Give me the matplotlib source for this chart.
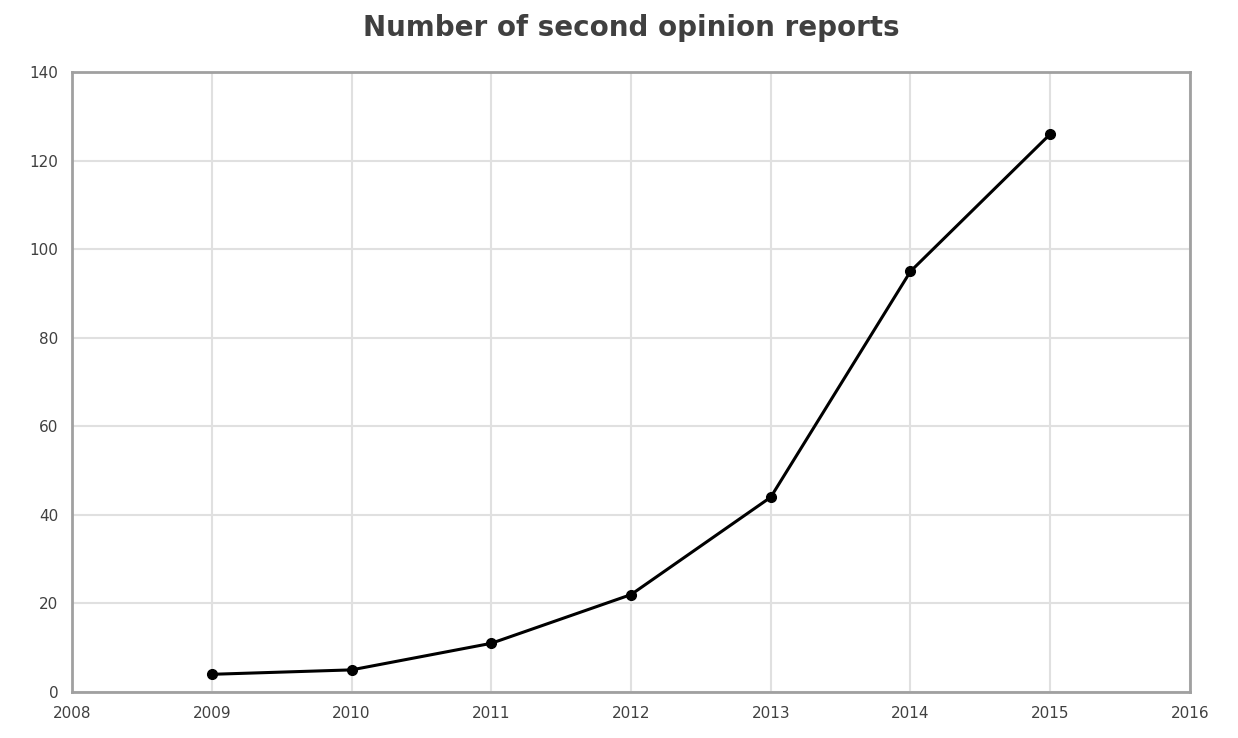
import matplotlib
matplotlib.use('Agg')
import matplotlib.pyplot as plt

# yearly counts of second opinion reports
years = [2009, 2010, 2011, 2012, 2013, 2014, 2015]
reports = [4, 5, 11, 22, 44, 95, 126]

xticks = list(range(2008, 2017))
yticks = list(range(0, 141, 20))

fig = plt.figure(figsize=(12.38, 7.38), dpi=100)
ax = fig.add_axes([0.0582, 0.0623, 0.903, 0.840])

ax.plot(years, reports, '-', color='black', linewidth=2.2, marker='o', markersize=7, zorder=3)

ax.set_xlim(2008, 2016)
ax.set_ylim(0, 140)
ax.set_xticks(xticks)
ax.set_yticks(yticks)
ax.tick_params(length=0, labelsize=11, colors='#404040', pad=10)
ax.grid(True, color='#e0e0e0', linewidth=1.5)
ax.set_axisbelow(True)
for s in ax.spines.values():
    s.set_color('#a0a0a0')
    s.set_linewidth(2)

ax.set_title('Number of second opinion reports', fontsize=20, fontweight='bold', color='#404040', pad=26)

fig.savefig('out.png', dpi=100)
